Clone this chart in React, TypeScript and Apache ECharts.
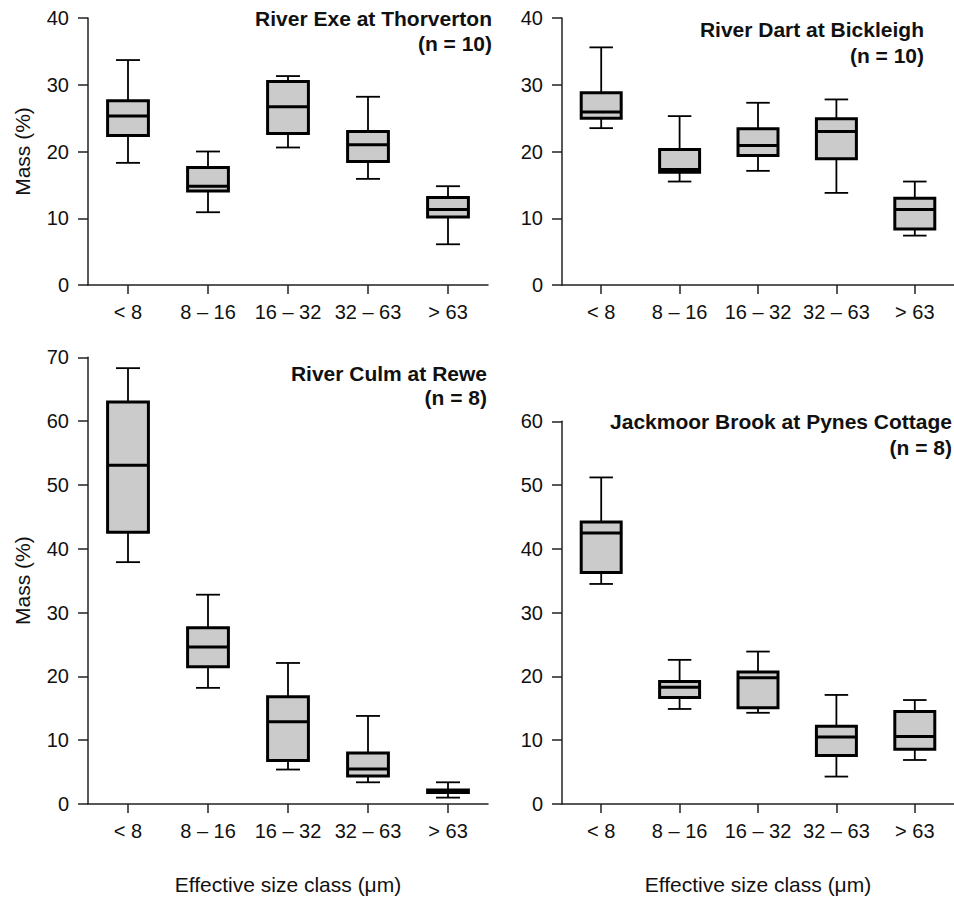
import React, { useEffect, useRef } from "react";
import * as echarts from "echarts";

// Size classes (µm)
const categories = ["< 8", "8 – 16", "16 – 32", "32 – 63", "> 63"];

// Each box: [min, Q1, median, Q3, max] (Mass %)
const exeBoxes = [
  [18.3, 22.4, 25.3, 27.6, 33.7],
  [10.9, 14.1, 14.8, 17.6, 20.0],
  [20.6, 22.7, 26.7, 30.5, 31.3],
  [15.9, 18.5, 21.0, 23.0, 28.2],
  [6.1, 10.2, 11.3, 13.1, 14.8],
];
const dartBoxes = [
  [23.5, 25.0, 25.9, 28.8, 35.6],
  [15.5, 16.9, 17.3, 20.3, 25.3],
  [17.1, 19.4, 20.9, 23.4, 27.3],
  [13.8, 18.9, 23.0, 24.9, 27.8],
  [7.4, 8.4, 11.3, 13.0, 15.5],
];
const culmBoxes = [
  [37.9, 42.6, 53.1, 63.0, 68.3],
  [18.2, 21.5, 24.6, 27.6, 32.8],
  [5.4, 6.8, 12.9, 16.8, 22.1],
  [3.4, 4.4, 5.5, 8.0, 13.8],
  [1.0, 1.8, 2.0, 2.2, 3.4],
];
const jackBoxes = [
  [34.5, 36.3, 42.5, 44.2, 51.2],
  [14.9, 16.7, 18.3, 19.2, 22.6],
  [14.3, 15.1, 19.8, 20.7, 23.9],
  [4.3, 7.6, 10.5, 12.2, 17.1],
  [6.9, 8.6, 10.6, 14.5, 16.3],
];

const panelTitles = [
  "River Exe at Thorverton",
  "River Dart at Bickleigh",
  "River Culm at Rewe",
  "Jackmoor Brook at Pynes Cottage",
];
const panelCounts = ["(n = 10)", "(n = 10)", "(n = 8)", "(n = 8)"];
const yMax = [40, 40, 70, 60];
const yLabel = "Mass (%)";
const xLabel = "Effective size class (μm)";

const FONT = "'Liberation Sans', Arial, Helvetica, sans-serif";
const INK = "#111";

export default function App() {
  const ref = useRef<HTMLDivElement>(null);

  useEffect(() => {
    if (!ref.current) return;
    const chart = echarts.init(ref.current, undefined, { renderer: "svg" });

    const grids = [
      { left: 88, top: 18, width: 400, height: 267 },
      { left: 562, top: 18, width: 400, height: 267 },
      { left: 88, top: 357.3, width: 400, height: 446.7 },
      { left: 562, top: 421.3, width: 400, height: 382.7 },
    ];
    const allBoxes = [exeBoxes, dartBoxes, culmBoxes, jackBoxes];

    const axisLine = { show: true, lineStyle: { color: "#222", width: 1.5 } };
    const axisTick = { show: true, length: 10, lineStyle: { color: "#222", width: 1.5 } };

    const xAxes = grids.map((_, i) => ({
      type: "category",
      gridIndex: i,
      data: categories,
      boundaryGap: true,
      axisLine,
      axisTick: { ...axisTick, alignWithLabel: true, length: 9 },
      axisLabel: { color: INK, fontSize: 20, fontFamily: FONT, margin: 17, interval: 0 },
      splitLine: { show: false },
      name: i >= 2 ? xLabel : "",
      nameLocation: "middle",
      nameGap: 70,
      nameTextStyle: { color: INK, fontSize: 21, fontFamily: FONT },
    }));

    const yAxes = grids.map((_, i) => ({
      type: "value",
      gridIndex: i,
      min: 0,
      max: yMax[i],
      interval: 10,
      axisLine: { ...axisLine, onZero: false },
      axisTick,
      axisLabel: { color: INK, fontSize: 20, fontFamily: FONT, margin: 19 },
      splitLine: { show: false },
      name: i % 2 === 0 ? yLabel : "",
      nameLocation: "middle",
      nameRotate: 90,
      nameGap: 55,
      nameTextStyle: { color: INK, fontSize: 21, fontFamily: FONT },
    }));

    const renderBox = (params: any, api: any) => {
      const idx = api.value(0);
      const lo = api.coord([idx, api.value(1)]);
      const q1 = api.coord([idx, api.value(2)]);
      const med = api.coord([idx, api.value(3)]);
      const q3 = api.coord([idx, api.value(4)]);
      const hi = api.coord([idx, api.value(5)]);
      const band = api.size([1, 0])[0];
      const half = band * 0.255;
      const cap = band * 0.15;
      const cx = lo[0];
      const thin = { stroke: "#000", lineWidth: 1.8 };
      const thick = { stroke: "#000", lineWidth: 3 };
      return {
        type: "group",
        children: [
          { type: "line", shape: { x1: cx, y1: q3[1], x2: cx, y2: hi[1] }, style: thin },
          { type: "line", shape: { x1: cx, y1: q1[1], x2: cx, y2: lo[1] }, style: thin },
          { type: "line", shape: { x1: cx - cap, y1: hi[1], x2: cx + cap, y2: hi[1] }, style: thin },
          { type: "line", shape: { x1: cx - cap, y1: lo[1], x2: cx + cap, y2: lo[1] }, style: thin },
          {
            type: "rect",
            shape: { x: cx - half, y: q3[1], width: half * 2, height: q1[1] - q3[1] },
            style: { fill: "#cbcbcb", stroke: "#000", lineWidth: 3 },
          },
          { type: "line", shape: { x1: cx - half, y1: med[1], x2: cx + half, y2: med[1] }, style: thick },
        ],
      };
    };

    const series = allBoxes.map((boxes, i) => ({
      type: "custom",
      xAxisIndex: i,
      yAxisIndex: i,
      renderItem: renderBox,
      encode: { x: 0, y: [1, 2, 3, 4, 5] },
      data: boxes.map((b, k) => [k, ...b]),
      clip: false,
    }));

    const titleRight = [492, 924, 487, 952];
    const titleY = [18, 29, 373, 421];
    const countY = [43, 55, 397, 447];
    const graphic: any[] = [];
    panelTitles.forEach((t, i) => {
      graphic.push({
        type: "text",
        x: titleRight[i],
        y: titleY[i],
        style: {
          text: t,
          fill: INK,
          font: `bold 21px ${FONT}`,
          textAlign: "right",
          textVerticalAlign: "middle",
        },
      });
      graphic.push({
        type: "text",
        x: titleRight[i],
        y: countY[i],
        style: {
          text: panelCounts[i],
          fill: INK,
          font: `bold 21px ${FONT}`,
          textAlign: "right",
          textVerticalAlign: "middle",
        },
      });
    });

    chart.setOption({
      animation: false,
      backgroundColor: "#fff",
      textStyle: { fontFamily: FONT },
      grid: grids.map((g) => ({ ...g, containLabel: false })),
      xAxis: xAxes,
      yAxis: yAxes,
      series,
      graphic,
    });

    return () => chart.dispose();
  }, []);

  return (
    <div
      ref={ref}
      style={{ position: "absolute", left: 0, top: 0, width: 954, height: 897, background: "#fff" }}
    />
  );
}
